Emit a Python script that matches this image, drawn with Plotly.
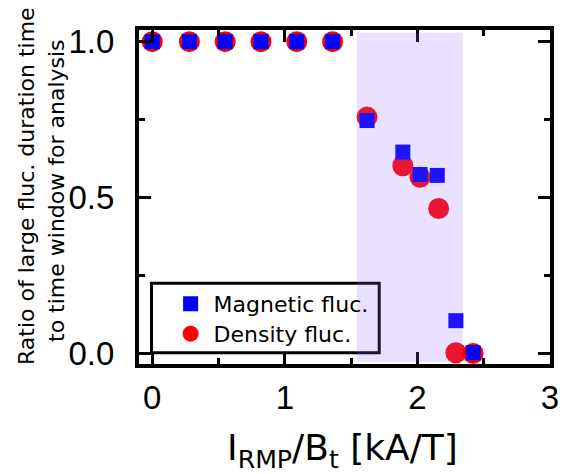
import plotly.graph_objects as go

# Data
x_mag = [0.0, 0.28, 0.55, 0.82, 1.09, 1.36, 1.62, 1.89, 2.02, 2.15, 2.29, 2.42]
y_mag = [1.0, 1.0, 1.0, 1.0, 1.0, 1.0, 0.747, 0.646, 0.574, 0.571, 0.105, 0.002]
x_den = [0.0, 0.28, 0.55, 0.82, 1.09, 1.36, 1.62, 1.89, 2.02, 2.16, 2.29, 2.42]
y_den = [1.0, 1.0, 1.0, 1.0, 1.0, 1.0, 0.758, 0.602, 0.565, 0.465, 0.002, 0.0]
shade_x = [1.543, 2.341]
x_ticks = [0, 1, 2, 3]
y_ticks = [0.0, 0.5, 1.0]
y_ticklabels = ["0.0", "0.5", "1.0"]

fig = go.Figure()
fig.add_trace(go.Scatter(x=x_den, y=y_den, mode="markers", name="Density fluc.",
                         marker=dict(symbol="circle", size=21, color="#ff0000"),
                         legend="legend2"))
fig.add_trace(go.Scatter(x=x_mag, y=y_mag, mode="markers", name="Magnetic fluc.",
                         marker=dict(symbol="square", size=15, color="#0000ff"),
                         legend="legend"))

tickfont = dict(family="Liberation Sans", size=33, color="black")
fig.update_xaxes(range=[-0.1, 3.0], tickvals=x_ticks, ticktext=[str(v) for v in x_ticks],
                 showline=True, linewidth=4, linecolor="black", mirror="ticks",
                 ticks="inside", ticklen=12, tickwidth=3, tickcolor="black",
                 minor=dict(ticks="inside", dtick=0.5, ticklen=6, tickwidth=3, tickcolor="black"),
                 showgrid=False, zeroline=False, tickfont=tickfont, ticklabelstandoff=1)
fig.update_yaxes(range=[-0.034, 1.0375], tickvals=y_ticks, ticktext=y_ticklabels,
                 showline=True, linewidth=4, linecolor="black", mirror="ticks",
                 ticks="inside", ticklen=12, tickwidth=3, tickcolor="black",
                 minor=dict(ticks="inside", dtick=0.25, ticklen=6, tickwidth=3, tickcolor="black"),
                 showgrid=False, zeroline=False, tickfont=tickfont, ticklabelstandoff=14)

# legend box
fig.add_shape(type="rect", xref="paper", yref="paper", x0=0.0304, x1=0.5845, y0=0.0338, y1=0.2416,
              line=dict(color="black", width=3), fillcolor="rgba(0,0,0,0)", layer="below")
# shaded region
fig.add_shape(type="rect", xref="x", yref="paper", x0=shade_x[0], x1=shade_x[1], y0=0.007, y1=0.992,
              line=dict(width=0), fillcolor="rgba(145,105,255,0.2)", layer="above")

yfont = dict(family="DejaVu Sans", size=22, color="black")
fig.add_annotation(text="Ratio of large fluc. duration time", xref="paper", yref="paper",
                   x=0, y=0.533, xanchor="center", yanchor="middle", xshift=-112,
                   textangle=-90, showarrow=False, font=yfont)
fig.add_annotation(text="to time window for analysis", xref="paper", yref="paper",
                   x=0, y=0.518, xanchor="center", yanchor="middle", xshift=-82,
                   textangle=-90, showarrow=False, font=yfont)
fig.add_annotation(text="I<sub>RMP</sub>/B<sub>t</sub> [kA/T]", xref="paper", yref="paper",
                   x=0.495, y=0, xanchor="center", yanchor="top", yshift=-61,
                   showarrow=False, font=dict(family="DejaVu Sans", size=36, color="black"))

legfont = dict(family="DejaVu Sans", size=22, color="black")
fig.update_layout(
    width=571, height=474,
    margin=dict(l=139, r=14, t=30, b=110),
    paper_bgcolor="white", plot_bgcolor="white",
    showlegend=True,
    legend=dict(x=0.0696, y=0.243, xanchor="left", yanchor="top",
                bgcolor="rgba(0,0,0,0)", borderwidth=0, itemwidth=36, font=legfont),
    legend2=dict(x=0.0696, y=0.153, xanchor="left", yanchor="top",
                 bgcolor="rgba(0,0,0,0)", borderwidth=0, itemwidth=36, font=legfont),
)

fig.write_html("out.html")
